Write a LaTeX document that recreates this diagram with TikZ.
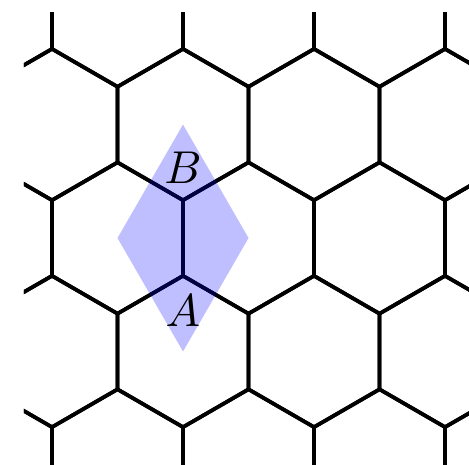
\documentclass[tikz,border=0pt]{standalone}
\usepackage{tikz}
\usetikzlibrary{positioning}
\tikzset{
  bond/.style={draw=black,thick,line join=miter},
  cell/.style={fill=blue,opacity=0.25},
  site/.style={inner sep=3.33pt},
}
\newcommand{\bondlen}{0.57735}

\begin{document}
\begin{tikzpicture}[scale=1]
\useasboundingbox (-1.397,-1.725) rectangle (2.183,1.817);
\begin{scope}
\clip (-1.214,-1.725) rectangle (2.3,1.725);
\foreach \i in {-4,...,4}{
  \foreach \j in {-2,...,2}{
    \draw[bond] ({0.5+\i+0.5*\j},{0.866025*\j}) ++(90:\bondlen)
      -- ++(210:\bondlen) -- ++(270:\bondlen) -- ++(330:\bondlen)
      -- ++(30:\bondlen) -- ++(90:\bondlen) -- cycle;
  }
}
\end{scope}
\coordinate (A) at (0,-0.288675);
\coordinate (B) at (0,0.288675);
\coordinate (c1) at (0,0.866025);
\coordinate (c2) at (-0.5,0);
\coordinate (c3) at (0,-0.866025);
\coordinate (c4) at (0.5,0);
\fill[cell] (c1)--(c2)--(c3)--(c4)--cycle;
\node[site,above=0pt of B] (labB) {$B$};
\node[site,below=0.6pt of A] (labA) {$A$};
\end{tikzpicture}
\end{document}
